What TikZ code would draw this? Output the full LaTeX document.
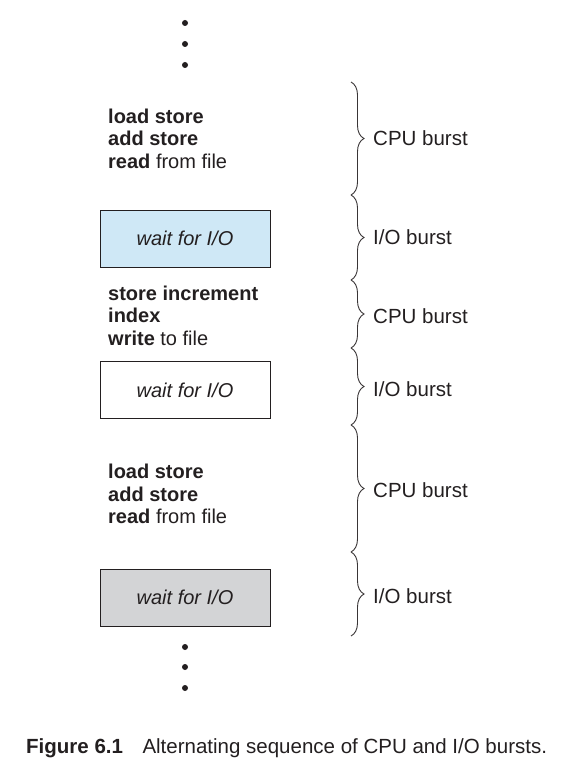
\documentclass[tikz,border=0pt]{standalone}
\usepackage{fontspec}
\setmainfont{Liberation Sans}
\usetikzlibrary{positioning,decorations.pathreplacing}
\definecolor{inkdark}{RGB}{35,31,32}
\definecolor{waitblue}{RGB}{207,232,246}
\definecolor{waitgray}{RGB}{211,212,214}
\tikzset{
  codetext/.style={anchor=west, align=left, inner sep=0pt, text=inkdark, font=\fontsize{20}{22.6}\selectfont},
  iobox/.style={draw=inkdark, line width=0.9pt, minimum width=170pt, minimum height=57pt, inner sep=0pt, text=inkdark, font=\fontsize{20}{24}\selectfont\itshape},
  burstbrace/.style={decorate, decoration={brace, amplitude=13pt}, line width=0.9pt, draw=inkdark!90},
  burstlabel/.style={anchor=west, inner sep=0pt, text=inkdark, font=\fontsize{20.5}{24}\selectfont},
  vdot/.style={circle, fill=inkdark, inner sep=0pt, minimum size=6pt}
}

\begin{document}
\begin{tikzpicture}[x=1pt, y=-1pt]
  \useasboundingbox (0,0) rectangle (562,770);
  % ellipsis above and below
  \foreach \y [count=\i] in {23,44,65} \node[vdot] (topdot\i) at (185,\y) {};
  \foreach \y [count=\i] in {647,667,688} \node[vdot] (botdot\i) at (185,\y) {};
  % instruction blocks and waits
  \node[codetext] (cpu1) at (108,138.5) {\textbf{load store}\\\textbf{add store}\\\textbf{read} from file};
  \node[iobox, fill=waitblue] (io1) at (185,238.5) {wait for I/O};
  \node[codetext] (cpu2) at (108,315.5) {\textbf{store increment}\\\textbf{index}\\\textbf{write} to file};
  \node[iobox, fill=white] (io2) at (185,390) {wait for I/O};
  \node[codetext] (cpu3) at (108,494) {\textbf{load store}\\\textbf{add store}\\\textbf{read} from file};
  \node[iobox, fill=waitgray] (io3) at (185,597.5) {wait for I/O};
  % braces
  \foreach \n/\y in {0/82,1/195,2/280,3/348,4/425,5/552,6/636}
    \coordinate (b\n) at (351,\y);
  \foreach \a/\b in {0/1,1/2,2/3,3/4,4/5,5/6}
    \draw[burstbrace] (b\a) -- (b\b);
  \node[burstlabel] (lab1) at (373,138) {CPU burst};
  \node[burstlabel] (lab2) at (373,237) {I/O burst};
  \node[burstlabel] (lab3) at (373,316) {CPU burst};
  \node[burstlabel] (lab4) at (373,389) {I/O burst};
  \node[burstlabel] (lab5) at (373,490) {CPU burst};
  \node[burstlabel] (lab6) at (373,596) {I/O burst};
  % caption
  \node[burstlabel] (caption) at (26,748) {\textbf{Figure 6.1}\hspace{0.95em}Alternating sequence of CPU and I/O bursts.};
\end{tikzpicture}
\end{document}
